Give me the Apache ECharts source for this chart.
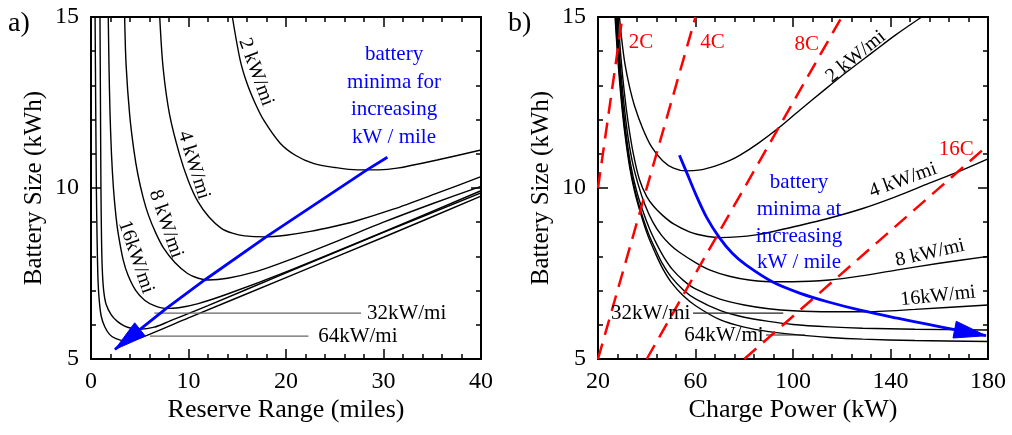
<!DOCTYPE html>
<html>
<head>
<meta charset="utf-8">
<script src="https://cdn.jsdelivr.net/npm/echarts@6/dist/echarts.min.js"></script>
<style>
  html, body { margin: 0; padding: 0; background: #fff; }
  #chart { width: 1012px; height: 435px; }
</style>
</head>
<body>
<div id="chart"></div>
<script>
// ---------- panel a): battery size (kWh) against reserve range (miles) ----------
const rangeKw2  = [[14.5,15],[15.3,13.74],[16.0,13.06],[16.8,12.5],[17.7,11.99],[19.4,11.31],[21.0,10.95],[22.8,10.72],[25.0,10.6],[27.3,10.53],[29.5,10.53],[31.4,10.58],[35.5,10.82],[40,11.11]];
const rangeKw4  = [[7.05,15],[7.4,13.5],[8.07,12.13],[9.1,10.96],[10.0,10.2],[10.97,9.6],[12.1,9.15],[13.37,8.82],[14.5,8.68],[15.76,8.6],[17.8,8.57],[20,8.62],[22.5,8.73],[25,8.88],[27,9.02],[31,9.38],[35.5,9.85],[40,10.33]];
const rangeKw8  = [[3.45,15],[3.6,13.6],[3.97,12.13],[4.4,11.1],[4.82,10.38],[5.35,9.72],[5.9,9.2],[6.65,8.68],[7.45,8.24],[8.6,7.82],[9.9,7.5],[11,7.36],[12,7.31],[14,7.36],[17,7.56],[20,7.86],[25,8.42],[30,9.0],[35,9.54],[40,10.05]];
const rangeKw16 = [[1.77,15],[1.85,13.5],[1.95,12.2],[2.1,11.0],[2.3,10.0],[2.55,9.2],[2.8,8.65],[3.3,7.9],[3.8,7.45],[4.6,7.0],[5.5,6.72],[6.5,6.56],[7.6,6.48],[9,6.5],[11,6.62],[14,6.9],[20,7.55],[30,8.72],[40,9.92]];
const rangeKw32 = [[0.92,15],[0.97,12.5],[1.02,10],[1.08,8.5],[1.16,7.6],[1.3,7.0],[1.55,6.6],[2.08,6.29],[2.7,6.1],[3.4,5.97],[4.13,5.9],[5,5.87],[6.5,5.93],[8,6.1],[12,6.56],[20,7.52],[30,8.7],[40,9.86]];
const rangeKw64 = [[0.42,15],[0.48,12.5],[0.55,10],[0.62,8.6],[0.72,7.3],[0.85,6.7],[1.05,6.25],[1.4,5.95],[1.9,5.72],[2.5,5.6],[3.4,5.53],[4.5,5.57],[6,5.72],[10,6.2],[20,7.38],[30,8.56],[40,9.76]];
// path through the minima of the curves above
const rangeMinima = [[30.4,10.9],[28.3,10.53],[18,8.58],[11.66,7.31],[7.73,6.48],[2.46,5.28]];
// leader lines for the two flattest curves
const rangeLeader32 = [[6.5,6.34],[27.7,6.34]];
const rangeLeader64 = [[6.05,5.67],[22.3,5.67]];

// ---------- panel b): battery size (kWh) against charge power (kW) ----------
const powerKw2  = [[28.8,15],[29.8,14.3],[31,13.65],[32.8,13.0],[35,12.4],[38.3,11.75],[42,11.2],[46.5,10.8],[51,10.58],[56.1,10.5],[62,10.53],[68,10.64],[73.9,10.8],[78.3,10.96],[86,11.32],[94.7,11.79],[103,12.29],[112.4,12.84],[122,13.39],[132.9,13.98],[142,14.47],[152.8,15]];
const powerKw4  = [[28.3,15],[29.3,13.9],[30.8,12.8],[32.5,11.85],[34.5,11.0],[37,10.25],[40,9.75],[43,9.45],[46.5,9.2],[51,8.95],[57.5,8.72],[63,8.61],[69.8,8.55],[77,8.57],[84.8,8.63],[92,8.73],[101.2,8.88],[114,9.1],[128.6,9.4],[142,9.74],[155.9,10.14],[168,10.48],[180,10.85]];
const powerKw8  = [[27.8,15],[28.8,13.9],[30.3,12.7],[32,11.65],[34,10.8],[36.5,10.1],[39.3,9.5],[42.5,9.0],[46,8.62],[49.5,8.35],[53.4,8.12],[60,7.82],[66,7.6],[73.9,7.42],[82,7.31],[90.3,7.26],[100,7.26],[114.9,7.31],[128,7.43],[142.3,7.6],[160,7.8],[180,8.0]];
const powerKw16 = [[27.5,15],[28.5,13.9],[30,12.6],[31.5,11.6],[33.5,10.65],[35.7,9.95],[38.3,9.35],[41.3,8.78],[44.3,8.33],[47,7.98],[50.5,7.62],[55,7.3],[60.2,7.04],[70,6.75],[80,6.58],[90,6.47],[100,6.41],[115,6.38],[128.6,6.38],[150,6.45],[180,6.58]];
const powerKw32 = [[27.2,15],[28.2,13.9],[29.7,12.6],[31.2,11.6],[33.2,10.6],[35.3,9.9],[37.8,9.27],[40.8,8.65],[43.8,8.17],[46.5,7.78],[50,7.4],[55,7.02],[60.2,6.75],[70,6.42],[80,6.22],[90,6.1],[100,6.01],[115,5.94],[128.6,5.9],[150,5.87],[180,5.85]];
const powerKw64 = [[27.0,15],[28,13.9],[29.5,12.6],[31,11.6],[33,10.6],[35,9.9],[37.5,9.25],[40.5,8.6],[43.5,8.1],[46.5,7.65],[50,7.25],[55,6.85],[60.2,6.55],[70,6.15],[80,5.93],[90,5.8],[100,5.72],[115,5.63],[128.6,5.58],[150,5.54],[180,5.51]];
// constant C-rate lines
const rate2C  = [[20,10],[30,15]];
const rate4C  = [[20,5],[60,15]];
const rate8C  = [[40,5],[120,15]];
const rate16C = [[80,5],[180,11.25]];
// path through the minima of the power curves
const powerMinima = [[53.4,10.96],[56.1,10.5],[60.2,9.8],[64.5,9.15],[69.8,8.55],[75,8.1],[80.7,7.75],[91.7,7.25],[103,6.92],[114.9,6.66],[128,6.42],[142.3,6.2],[155,6.02],[166.9,5.85],[179.2,5.68]];
const powerLeader32 = [[59,6.34],[96,6.34]];
const powerLeader64 = [[88.9,5.70],[105,5.70]];

// axis ranges and names
const rangeAxis = { min: 0, max: 40, step: 10 };
const powerAxis = { min: 20, max: 180, step: 40 };
const sizeAxis  = { min: 5, max: 15, step: 5 };
const curveNames = ['2 kW/mi', '4 kW/mi', '8 kW/mi', '16kW/mi', '32kW/mi', '64kW/mi'];
const rateNames = ['2C', '4C', '8C', '16C'];
const minimaTextA = 'battery\nminima for\nincreasing\nkW / mile';
const minimaTextB = 'battery\nminima at\nincreasing\nkW / mile';

const SERIF = '"Liberation Serif", "DejaVu Serif", "Times New Roman", serif';
const BLUE = '#0000ff';
const RED = '#ff0000';
// axis index pairs: panel a) uses x/y axis 0, panel b) uses x/y axis 2
const PANEL_A = 0, PANEL_B = 2;

function valueAxis(grid, rng, position, withLabels, name, nameGap) {
  return {
    type: 'value', gridIndex: grid, position: position,
    min: rng.min, max: rng.max, interval: rng.step,
    name: withLabels ? name : '',
    nameLocation: 'middle', nameGap: nameGap,
    nameRotate: (position === 'left') ? 90 : 0,
    nameMoveOverlap: false,
    nameTextStyle: { fontFamily: SERIF, fontSize: position === 'left' ? 25 : 26, color: '#000' },
    axisLine: { show: true, onZero: false, lineStyle: { color: '#000', width: 2 } },
    axisTick: { show: true, inside: true, length: 10, lineStyle: { color: '#000', width: 1.5 } },
    minorTick: { show: true, splitNumber: 5, length: 5, lineStyle: { color: '#000', width: 1.5 } },
    axisLabel: { show: withLabels, fontFamily: SERIF, fontSize: 24, color: '#000', margin: position === 'left' ? 12 : 11 },
    splitLine: { show: false }, minorSplitLine: { show: false }
  };
}

function curve(ai, data, color, width, extra) {
  return Object.assign({
    type: 'line', xAxisIndex: ai, yAxisIndex: ai, data: data,
    symbol: 'none', showSymbol: false, smooth: 0.3,
    lineStyle: { color: color, width: width }, silent: true, animation: false, z: 3
  }, extra || {});
}

function arrowHead(ai, from, tip) {
  return {
    type: 'custom', xAxisIndex: ai, yAxisIndex: ai, silent: true, animation: false, z: 6,
    data: [[from[0], from[1], tip[0], tip[1]]],
    renderItem: function (params, api) {
      const a = api.coord([api.value(0), api.value(1)]);
      const b = api.coord([api.value(2), api.value(3)]);
      const dx = b[0] - a[0], dy = b[1] - a[1];
      const len = Math.hypot(dx, dy) || 1;
      const ux = dx / len, uy = dy / len;
      const L = 32, W = 8.5;
      const bx = b[0] - ux * L, by = b[1] - uy * L;
      return {
        type: 'polygon',
        shape: { points: [[b[0], b[1]], [bx - uy * W, by + ux * W], [bx + uy * W, by - ux * W]] },
        style: { fill: BLUE, stroke: BLUE, lineWidth: 1 }
      };
    }
  };
}

function labels(ai, items) {
  return {
    type: 'scatter', xAxisIndex: ai, yAxisIndex: ai, silent: true, animation: false,
    symbolSize: 0, itemStyle: { color: 'rgba(0,0,0,0)', opacity: 1 }, z: 7,
    data: items.map(function (it) {
      return {
        value: [it.at[0], it.at[1]],
        label: {
          show: true, position: 'inside', formatter: it.text,
          rotate: it.rot || 0, align: it.align || 'center', verticalAlign: 'middle',
          color: it.color || '#000', fontSize: it.size || 20, fontFamily: SERIF,
          lineHeight: it.lh || undefined, opacity: 1
        }
      };
    })
  };
}

const chart = echarts.init(document.getElementById('chart'), null, { renderer: 'canvas' });

const option = {
  animation: false,
  backgroundColor: '#fff',
  grid: [
    { left: 91, top: 17, width: 390, height: 342, containLabel: false, outerBoundsMode: 'none' },
    { left: 598, top: 17, width: 390, height: 342, containLabel: false, outerBoundsMode: 'none' }
  ],
  xAxis: [
    valueAxis(0, rangeAxis, 'bottom', true, 'Reserve Range (miles)', 38),
    valueAxis(0, rangeAxis, 'top', false, '', 0),
    valueAxis(1, powerAxis, 'bottom', true, 'Charge Power (kW)', 38),
    valueAxis(1, powerAxis, 'top', false, '', 0)
  ],
  yAxis: [
    valueAxis(0, sizeAxis, 'left', true, 'Battery Size (kWh)', 44),
    valueAxis(0, sizeAxis, 'right', false, '', 0),
    valueAxis(1, sizeAxis, 'left', true, 'Battery Size (kWh)', 44),
    valueAxis(1, sizeAxis, 'right', false, '', 0)
  ],
  graphic: [
    { type: 'text', left: 8, top: 10, style: { text: 'a)', font: '28px ' + SERIF, fill: '#000' } },
    { type: 'text', left: 508, top: 10, style: { text: 'b)', font: '28px ' + SERIF, fill: '#000' } }
  ],
  series: []
};

// panel a) series
[rangeKw2, rangeKw4, rangeKw8, rangeKw16, rangeKw32, rangeKw64].forEach(function (d) {
  option.series.push(curve(PANEL_A, d, '#000', 1.4));
});
option.series.push(curve(PANEL_A, rangeLeader32, '#666', 1.1, { smooth: false }));
option.series.push(curve(PANEL_A, rangeLeader64, '#666', 1.1, { smooth: false }));
option.series.push(curve(PANEL_A, rangeMinima, BLUE, 2.8, { smooth: false, z: 5 }));
option.series.push(arrowHead(PANEL_A, rangeMinima[rangeMinima.length - 2], rangeMinima[rangeMinima.length - 1]));
option.series.push(labels(PANEL_A, [
  { text: curveNames[0], at: [16.92, 13.39], rot: -70 },
  { text: curveNames[1], at: [10.54, 10.67], rot: -73 },
  { text: curveNames[2], at: [7.69, 8.95], rot: -71 },
  { text: curveNames[3], at: [4.62, 7.98], rot: -71 },
  { text: curveNames[4], at: [28.3, 6.34], align: 'left', size: 21 },
  { text: curveNames[5], at: [23.3, 5.67], align: 'left', size: 21 },
  { text: minimaTextA, at: [31.08, 12.69], color: BLUE, size: 21, lh: 27.5 }
]));

// panel b) series
[powerKw2, powerKw4, powerKw8, powerKw16, powerKw32, powerKw64].forEach(function (d) {
  option.series.push(curve(PANEL_B, d, '#000', 1.4));
});
option.series.push(curve(PANEL_B, powerLeader32, '#222', 1.1, { smooth: false }));
option.series.push(curve(PANEL_B, powerLeader64, '#222', 1.1, { smooth: false }));
[rate2C, rate4C, rate8C, rate16C].forEach(function (d) {
  option.series.push(curve(PANEL_B, d, RED, 2.5, { smooth: false, z: 4, lineStyle: { color: RED, width: 2.5, type: [16, 9] } }));
});
option.series.push(curve(PANEL_B, powerMinima, BLUE, 2.8, { z: 5 }));
option.series.push(arrowHead(PANEL_B, powerMinima[powerMinima.length - 2], powerMinima[powerMinima.length - 1]));
option.series.push(labels(PANEL_B, [
  { text: curveNames[0], at: [125.76, 13.84], rot: 39 },
  { text: curveNames[1], at: [145.13, 10.23], rot: 20 },
  { text: curveNames[2], at: [156.2, 8.10], rot: 13 },
  { text: curveNames[3], at: [159.5, 6.84], rot: 6 },
  { text: curveNames[4], at: [25.33, 6.34], align: 'left', size: 21 },
  { text: curveNames[5], at: [55.4, 5.70], align: 'left', size: 21 },
  { text: rateNames[0], at: [37.6, 14.25], color: RED, size: 21 },
  { text: rateNames[1], at: [67.0, 14.25], color: RED, size: 21 },
  { text: rateNames[2], at: [105.6, 14.2], color: RED, size: 21 },
  { text: rateNames[3], at: [167.0, 11.13], color: RED, size: 21 },
  { text: minimaTextB, at: [102.46, 8.98], color: BLUE, size: 21, lh: 26.7 }
]));

chart.setOption(option);
</script>
</body>
</html>
